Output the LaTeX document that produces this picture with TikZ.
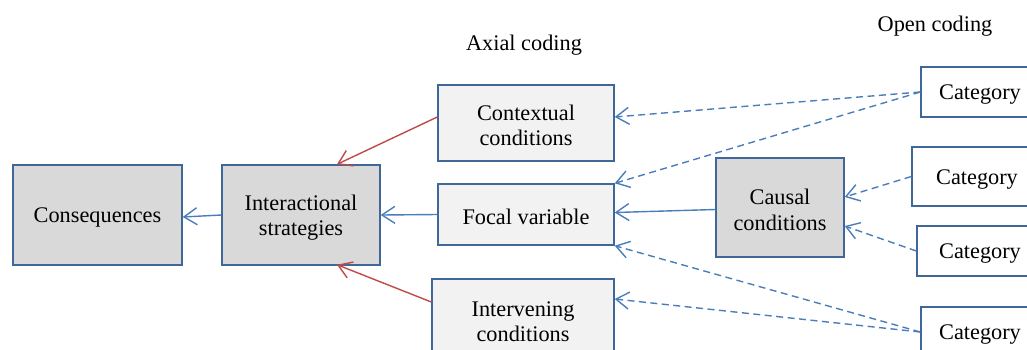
\documentclass[tikz,border=0pt]{standalone}
\usepackage{fontspec}
\setmainfont{Liberation Serif}
\usetikzlibrary{arrows.meta}
\definecolor{boxline}{HTML}{3F6797}
\definecolor{darkfill}{HTML}{D9D9D9}
\definecolor{lightfill}{HTML}{F2F2F2}
\definecolor{arrblue}{HTML}{4A7EBB}
\definecolor{arrred}{HTML}{BE4B48}
\tikzset{
  box/.style={draw=boxline, line width=1.4pt, rectangle, align=center, inner sep=0pt,
    font=\fontsize{22.3}{25.5}\selectfont},
  oneline/.style={text height=20pt},
  twoline/.style={text height=46pt},
  darkbox/.style={box, fill=darkfill},
  lightbox/.style={box, fill=lightfill},
  catbox/.style={box, fill=white, oneline},
  tip/.style={-{Straight Barb[length=13pt,width=17pt,line width=1.4pt]}},
  blueline/.style={tip, draw=arrblue, line width=1.4pt},
  redline/.style={tip, draw=arrred, line width=1.4pt},
  dashline/.style={blueline, dash pattern=on 7pt off 4.5pt},
  heading/.style={font=\fontsize{22.3}{25.5}\selectfont, inner sep=0pt}
}
\begin{document}
\begin{tikzpicture}[x=1pt,y=-1pt]
\useasboundingbox (0,0) rectangle (1027,349);
\begin{scope}
\clip (0,0) rectangle (1027,349);
\node[darkbox, oneline, minimum width=169pt, minimum height=100pt] (cons) at (97.5,215) {Consequences};
\node[darkbox, twoline, minimum width=158pt, minimum height=100pt] (inter) at (301,215) {Interactional\\strategies};
\node[lightbox, twoline, minimum width=176pt, minimum height=76pt] (ctx) at (526,123) {Contextual\\conditions};
\node[lightbox, oneline, minimum width=176pt, minimum height=61pt] (focal) at (526,214.5) {Focal variable};
\node[lightbox, twoline, minimum width=182pt, minimum height=80pt] (interv) at (523,319) {Intervening\\conditions};
\node[darkbox, twoline, minimum width=128pt, minimum height=99pt] (causal) at (780,207.5) {Causal\\conditions};
\node[catbox, minimum width=118pt, minimum height=50pt] (cat1) at (980,92) {Category};
\node[catbox, minimum width=130pt, minimum height=59pt] (cat2) at (977,176.5) {Category};
\node[catbox, minimum width=126pt, minimum height=50pt] (cat3) at (980,251) {Category};
\node[catbox, minimum width=118pt, minimum height=50pt] (cat4) at (980,332) {Category};

\node[heading] (axial) at (524,45) {Axial coding};
\node[heading] (open) at (935,26) {Open coding};

\draw[blueline] (inter.west) -- ([yshift=-2pt]cons.east);
\draw[blueline] (focal.west) -- (inter.east);
\draw[redline] ([yshift=6pt]ctx.west) -- ([xshift=36pt]inter.north);
\draw[redline] ([yshift=17pt]interv.west) -- ([xshift=36pt,yshift=1pt]inter.south);
\draw[blueline] ([yshift=-2pt]causal.west) -- ([yshift=2pt]focal.east);
\draw[dashline] (cat1.west) -- ([yshift=6pt]ctx.east);
\draw[dashline] (cat1.west) -- (focal.north east);
\draw[dashline] (cat2.west) -- ([yshift=10.5pt]causal.east);
\draw[dashline] (cat3.west) -- ([yshift=-18.5pt]causal.east);
\draw[dashline] (cat4.west) -- (focal.south east);
\draw[dashline] (cat4.west) -- ([yshift=20pt]interv.east);
\end{scope}
\end{tikzpicture}
\end{document}
